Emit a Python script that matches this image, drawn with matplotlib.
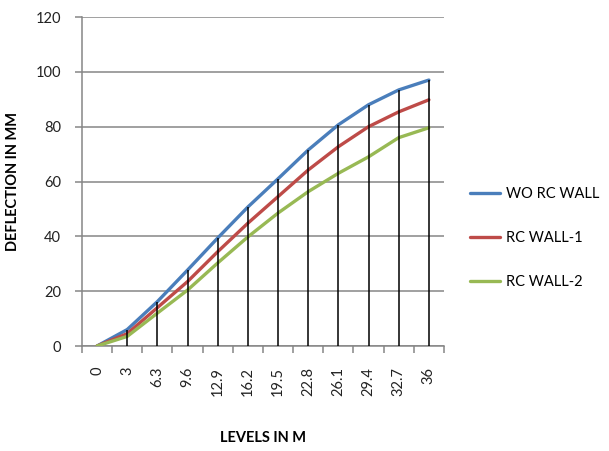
import matplotlib.pyplot as plt
import numpy as np

plt.rcParams['font.family'] = ['Lato', 'DejaVu Sans']

levels = ['0', '3', '6.3', '9.6', '12.9', '16.2', '19.5', '22.8', '26.1', '29.4', '32.7', '36']
wo_rc_wall = [0, 6, 16.2, 27.7, 39.4, 50.7, 61, 71.5, 80.7, 88, 93.4, 97]
rc_wall_1 = [0, 4.5, 14, 23.5, 34.4, 44.8, 54.5, 64.2, 72.7, 80, 85.4, 89.8]
rc_wall_2 = [0, 3.5, 12, 20.4, 30.3, 39.8, 48.5, 56.3, 63, 69, 76, 79.6]

fig = plt.figure(figsize=(6.09, 4.51), dpi=100)
ax = fig.add_axes([0.1346, 0.2328, 0.5944, 0.7295])

x = np.arange(len(levels))
ax.plot(x, wo_rc_wall, color='#4a7ebb', lw=2.4, solid_joinstyle='round', solid_capstyle='round', label='WO RC WALL', zorder=3)
ax.plot(x, rc_wall_1, color='#be4b48', lw=2.4, solid_joinstyle='round', solid_capstyle='round', label='RC WALL-1', zorder=3)
ax.plot(x, rc_wall_2, color='#98b954', lw=2.4, solid_joinstyle='round', solid_capstyle='round', label='RC WALL-2', zorder=3)

# drop lines from the highest series down to the axis
tops = np.maximum.reduce([wo_rc_wall, rc_wall_1, rc_wall_2])
ax.vlines(x, 0, tops, color='black', lw=1.1, zorder=4)

ax.set_xlim(-0.5, len(levels) - 0.5)
ax.set_ylim(0, 120)
ax.set_yticks(range(0, 121, 20))
ax.yaxis.grid(True, color='#868686', lw=1.1)
ax.set_axisbelow(True)

ax.set_xticks(x)
ax.set_xticklabels(levels, rotation=90, fontsize=10.5, va='top', color='#222222')
ax.tick_params(axis='x', length=0, pad=15)
ax.set_xticks(np.arange(-0.5, len(levels)), minor=True)
ax.tick_params(axis='x', which='minor', length=5, color='#868686', width=1.1)
ax.tick_params(axis='y', length=5, color='#868686', width=1.1, labelsize=10.5,
               labelcolor='#222222', pad=10)

for side in ['top', 'right']:
    ax.spines[side].set_visible(False)
for side in ['left', 'bottom']:
    ax.spines[side].set_color('#868686')
    ax.spines[side].set_linewidth(1.1)

ax.set_ylabel('DEFLECTION IN MM', fontsize=10.5, fontweight='bold', labelpad=11)
fig.text(0.432, 0.029, 'LEVELS IN M', fontsize=10.5, fontweight='bold', ha='center', va='center')

fig.legend(loc='center left', bbox_to_anchor=(0.772, 0.472), frameon=False,
           fontsize=10.5, borderaxespad=0, borderpad=0,
           handlelength=2.05, handletextpad=0.41, labelspacing=2.05)

fig.savefig('out.png', dpi=100)
